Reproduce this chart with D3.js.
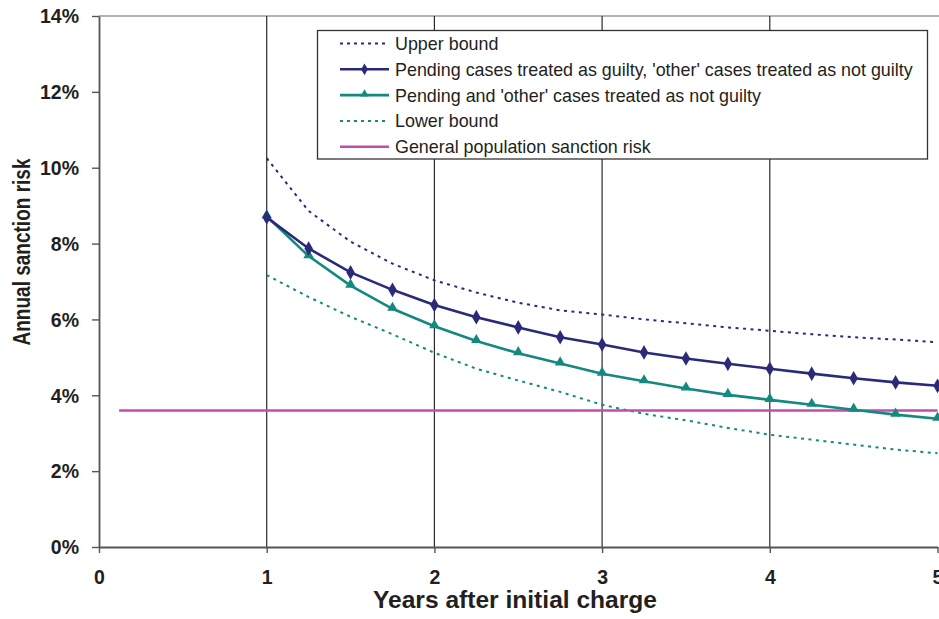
<!DOCTYPE html>
<html>
<head>
<meta charset="utf-8">
<script src="https://cdn.jsdelivr.net/npm/d3@7"></script>
<style>
  html, body { margin: 0; padding: 0; background: #fff; }
  svg { display: block; font-family: "Liberation Sans", Arial, sans-serif; }
</style>
</head>
<body>
<svg id="chart" width="939" height="619"></svg>
<script>
// ---- data ----
const years = [1, 1.25, 1.5, 1.75, 2, 2.25, 2.5, 2.75, 3, 3.25, 3.5, 3.75, 4, 4.25, 4.5, 4.75, 5];
const upperBound   = [10.25, 8.86, 8.05, 7.47, 7.03, 6.71, 6.44, 6.24, 6.13, 6.00, 5.90, 5.79, 5.70, 5.61, 5.53, 5.47, 5.40];
const pendingGuilty = [8.69, 7.87, 7.24, 6.78, 6.38, 6.06, 5.79, 5.53, 5.34, 5.13, 4.97, 4.83, 4.70, 4.57, 4.45, 4.34, 4.25];
const notGuilty     = [8.72, 7.67, 6.89, 6.28, 5.82, 5.43, 5.11, 4.84, 4.57, 4.37, 4.18, 4.01, 3.88, 3.75, 3.62, 3.49, 3.38];
const lowerBound    = [7.17, 6.59, 6.07, 5.61, 5.12, 4.70, 4.39, 4.09, 3.75, 3.51, 3.34, 3.14, 2.96, 2.83, 2.70, 2.57, 2.47];
const generalYears = [0.12, 5];
const generalRisk  = [3.6, 3.6];
const xTicks = [0, 1, 2, 3, 4, 5];
const yTicks = [0, 2, 4, 6, 8, 10, 12, 14];
const legendLabels = [
  "Upper bound",
  "Pending cases treated as guilty, 'other' cases treated as not guilty",
  "Pending and 'other' cases treated as not guilty",
  "Lower bound",
  "General population sanction risk"
];

// ---- layout ----
const NAVY = "#2b2a78", TEAL = "#13897f", PINK = "#c04fa9", TXT = "#231f20";
const svg = d3.select("#chart");
const x = d3.scaleLinear().domain([0, 5]).range([99, 937.5]);
const y = d3.scaleLinear().domain([0, 14]).range([547, 16]);

// top border
svg.append("line").attr("x1", 99).attr("x2", 939).attr("y1", y(14)).attr("y2", y(14))
  .attr("stroke", "#9a9a9a").attr("stroke-width", 1.5);

// vertical gridlines
svg.append("g").selectAll("line").data(xTicks.filter(d => d > 0 && d < 5)).join("line")
  .attr("x1", d => x(d)).attr("x2", d => x(d))
  .attr("y1", y(14)).attr("y2", y(0))
  .attr("stroke", "#2a2a2a").attr("stroke-width", 1.2);

// axes
const yAxis = svg.append("g").attr("transform", `translate(${x(0)},0)`)
  .call(d3.axisLeft(y).tickValues(yTicks).tickFormat(d => d + "%").tickSize(7).tickSizeOuter(0));
const xAxis = svg.append("g").attr("transform", `translate(0,${y(0)})`)
  .call(d3.axisBottom(x).tickValues(xTicks).tickFormat(d3.format("d")).tickSize(6).tickSizeOuter(0));
[yAxis, xAxis].forEach(a => {
  a.select(".domain").attr("stroke", "#555").attr("stroke-width", 1.8);
  a.selectAll(".tick line").attr("stroke", "#555").attr("stroke-width", 1.4);
  a.selectAll(".tick text").attr("fill", TXT).attr("font-size", 19.5).attr("font-weight", "bold")
    .attr("font-family", "Liberation Sans, Arial, sans-serif");
});
yAxis.selectAll(".tick text").attr("x", -20).attr("dy", "0.35em");
xAxis.selectAll(".tick text").attr("y", 0).attr("dy", 0).attr("transform", "translate(0,37)");

// axis titles
svg.append("text").attr("x", 515).attr("y", 608).attr("text-anchor", "middle")
  .attr("font-size", 23).attr("font-weight", "bold").attr("fill", TXT)
  .attr("textLength", 284).attr("lengthAdjust", "spacingAndGlyphs")
  .text("Years after initial charge");
svg.append("text").attr("transform", "translate(30,252) rotate(-90)").attr("text-anchor", "middle")
  .attr("font-size", 24).attr("font-weight", "bold").attr("fill", TXT)
  .attr("textLength", 187).attr("lengthAdjust", "spacingAndGlyphs")
  .text("Annual sanction risk");

// ---- series ----
const line = d3.line().x(d => x(d[0])).y(d => y(d[1]));
const zipped = arr => years.map((yr, i) => [yr, arr[i]]);

svg.append("path").datum(zipped(upperBound)).attr("d", line)
  .attr("fill", "none").attr("stroke", NAVY).attr("stroke-width", 2).attr("stroke-dasharray", "3,4.5");
svg.append("path").datum(zipped(lowerBound)).attr("d", line)
  .attr("fill", "none").attr("stroke", TEAL).attr("stroke-width", 2).attr("stroke-dasharray", "3,4.5");
svg.append("path").datum(generalYears.map((g, i) => [g, generalRisk[i]])).attr("d", line)
  .attr("fill", "none").attr("stroke", PINK).attr("stroke-width", 2.5);
svg.append("path").datum(zipped(notGuilty)).attr("d", line)
  .attr("fill", "none").attr("stroke", TEAL).attr("stroke-width", 2.6);
svg.append("path").datum(zipped(pendingGuilty)).attr("d", line)
  .attr("fill", "none").attr("stroke", NAVY).attr("stroke-width", 2.6);

const diamond = d3.symbol().type(d3.symbolDiamond).size(62);
const triangle = d3.symbol().type(d3.symbolTriangle).size(48);
svg.append("g").selectAll("path").data(zipped(notGuilty)).join("path")
  .attr("d", triangle).attr("transform", d => `translate(${x(d[0])},${y(d[1]) - 1})`).attr("fill", TEAL);
svg.append("g").selectAll("path").data(zipped(pendingGuilty)).join("path")
  .attr("d", diamond).attr("transform", d => `translate(${x(d[0])},${y(d[1])})`).attr("fill", NAVY);

// ---- legend ----
const lg = svg.append("g");
lg.append("rect").attr("x", 317.5).attr("y", 30.5).attr("width", 610).attr("height", 128.5)
  .attr("fill", "#fff").attr("stroke", "#333").attr("stroke-width", 1.3);
const styles = [
  { c: NAVY, dash: "3,4", w: 2, m: null },
  { c: NAVY, dash: null, w: 2.6, m: "diamond" },
  { c: TEAL, dash: null, w: 2.6, m: "triangle" },
  { c: TEAL, dash: "3,4", w: 2, m: null },
  { c: PINK, dash: null, w: 2.5, m: null }
];
legendLabels.forEach((lab, i) => {
  const cy = 43.5 + i * 25.8;
  const s = styles[i];
  lg.append("line").attr("x1", 340).attr("x2", 389).attr("y1", cy).attr("y2", cy)
    .attr("stroke", s.c).attr("stroke-width", s.w).attr("stroke-dasharray", s.dash);
  if (s.m === "diamond") lg.append("path").attr("d", d3.symbol().type(d3.symbolDiamond).size(40)).attr("transform", `translate(364.5,${cy})`).attr("fill", s.c);
  if (s.m === "triangle") lg.append("path").attr("d", d3.symbol().type(d3.symbolTriangle).size(30)).attr("transform", `translate(364.5,${cy - 1})`).attr("fill", s.c);
  lg.append("text").attr("x", 395).attr("y", cy).attr("dy", "0.36em")
    .attr("font-size", 17.9).attr("fill", TXT).text(lab);
});
</script>
</body>
</html>
